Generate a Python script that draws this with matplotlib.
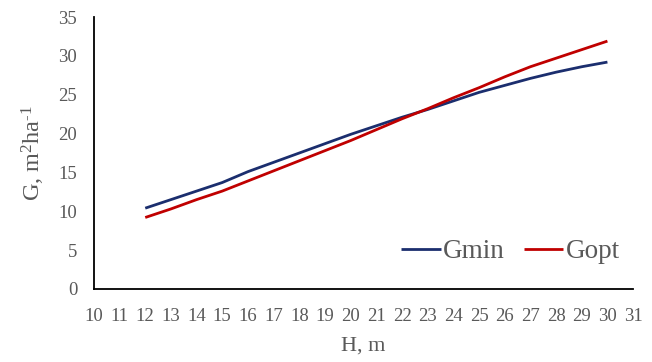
import matplotlib
matplotlib.use("Agg")
import matplotlib.pyplot as plt

# Stand height, m
height = [12, 13, 14, 15, 16, 17, 18, 19, 20, 21, 22, 23, 24, 25, 26, 27, 28, 29, 30]
# Basal area, m2/ha
g_min = [10.4, 11.5, 12.6, 13.7, 15.1, 16.3, 17.5, 18.7, 19.9, 21.0, 22.1, 23.1, 24.2, 25.3, 26.2, 27.1, 27.9, 28.6, 29.2]
g_opt = [9.2, 10.3, 11.5, 12.6, 13.9, 15.2, 16.5, 17.8, 19.1, 20.5, 21.9, 23.2, 24.6, 25.9, 27.3, 28.6, 29.7, 30.8, 31.9]

x_ticks = list(range(10, 32))
y_ticks = list(range(0, 36, 5))

plt.rcParams["font.family"] = ["Liberation Serif", "DejaVu Serif"]
plt.rcParams["mathtext.fontset"] = "custom"
plt.rcParams["mathtext.rm"] = "Liberation Serif"
plt.rcParams["mathtext.it"] = "Liberation Serif:italic"

text_color = "#595959"

fig = plt.figure(figsize=(6.52, 3.62), dpi=100)
ax = fig.add_axes([0.144, 0.2017, 0.827, 0.7513])

ax.plot(height, g_min, color="#1B2E6E", lw=2.0, label="Gmin", solid_capstyle="butt")
ax.plot(height, g_opt, color="#C00000", lw=2.0, label="Gopt", solid_capstyle="butt")

ax.set_xlim(10, 31)
ax.set_ylim(0, 35)
ax.set_xticks(x_ticks)
ax.set_yticks(y_ticks)
ax.tick_params(axis="both", length=0, labelsize=13.5, labelcolor=text_color)
ax.tick_params(axis="x", pad=14)
ax.tick_params(axis="y", pad=12)

for side in ("top", "right"):
    ax.spines[side].set_visible(False)
for side in ("left", "bottom"):
    ax.spines[side].set_color("black")
    ax.spines[side].set_linewidth(1.3)

ax.set_xlabel("H, m", fontsize=16, color=text_color, labelpad=8)
ax.set_ylabel(r"G, m$^{\text{2}}$ha$^{\text{-1}}$", fontsize=17.5, color=text_color)
ax.yaxis.set_label_coords(-0.087, 0.5)

leg = ax.legend(loc="center right", bbox_to_anchor=(0.976, 0.136), ncol=2, frameon=False,
                fontsize=19.5, handlelength=1.45, handletextpad=0.1, columnspacing=0.7,
                borderpad=0, borderaxespad=0)
for t in leg.get_texts():
    t.set_color(text_color)

fig.savefig("out.png", dpi=100)
